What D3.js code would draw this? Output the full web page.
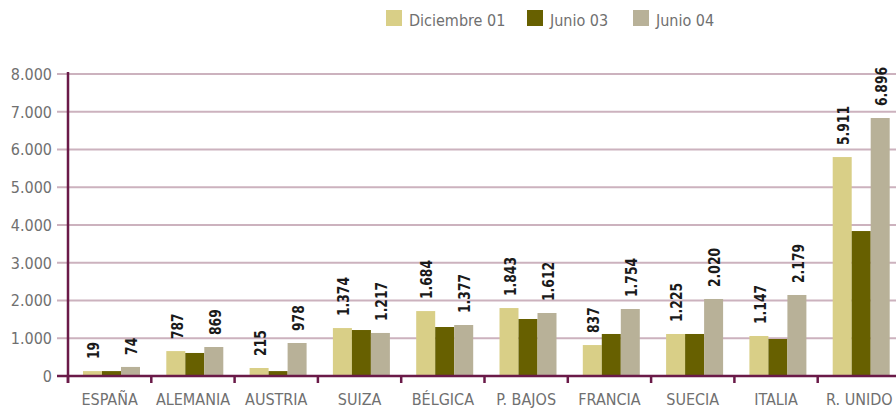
<!DOCTYPE html>
<html>
<head>
<meta charset="utf-8">
<script src="https://cdn.jsdelivr.net/npm/d3@7"></script>
<style>
  body { margin: 0; background: #fff; }
  svg { display: block; }
  .tick-label { font-family: 'DejaVu Sans Condensed', 'DejaVu Sans', sans-serif; font-stretch: condensed; font-size: 16px; fill: #707070; }
  .val { font-family: 'DejaVu Sans Condensed', 'DejaVu Sans', sans-serif; font-stretch: condensed; font-weight: bold; font-size: 16px; fill: #1a1a1a; }
</style>
</head>
<body>
<svg id="chart" width="896" height="408"></svg>
<script>
const width = 896;
const height = 408;

const categories = ['ESPAÑA', 'ALEMANIA', 'AUSTRIA', 'SUIZA', 'BÉLGICA', 'P. BAJOS', 'FRANCIA', 'SUECIA', 'ITALIA', 'R. UNIDO'];
const seriesNames = ['Diciembre 01', 'Junio 03', 'Junio 04'];
const colors = ['#d9cf87', '#676000', '#b8b198'];

// bar heights as drawn in the picture
const dic01 = [130, 660, 212, 1270, 1720, 1800, 820, 1113, 1060, 5800];
const jun03 = [130, 610, 130, 1218, 1298, 1510, 1113, 1113, 980, 3840];
const jun04 = [240, 768, 874, 1140, 1351, 1669, 1775, 2040, 2146, 6834];

// printed value labels (Diciembre 01 and Junio 04 only)
const dic01Labels = ['19', '787', '215', '1.374', '1.684', '1.843', '837', '1.225', '1.147', '5.911'];
const jun04Labels = ['74', '869', '978', '1.217', '1.377', '1.612', '1.754', '2.020', '2.179', '6.896'];

const yTicks = [0, 1000, 2000, 3000, 4000, 5000, 6000, 7000, 8000];
const yTickLabels = ['0', '1.000', '2.000', '3.000', '4.000', '5.000', '6.000', '7.000', '8.000'];

const svg = d3.select('#chart');

const x = d3.scaleBand().domain(categories).range([68, 901]);
const xs = d3.scaleBand().domain(seriesNames).range([15, 72]);
const y = d3.scaleLinear().domain([0, 8000]).range([376, 74]);

// gridlines
svg.append('g')
  .selectAll('line')
  .data(yTicks.slice(1))
  .enter().append('line')
  .attr('x1', 57).attr('x2', width)
  .attr('y1', d => y(d)).attr('y2', d => y(d))
  .attr('stroke', '#ccb2be').attr('stroke-width', 2);

// y tick labels
svg.append('g')
  .selectAll('text')
  .data(yTicks)
  .enter().append('text')
  .attr('class', 'tick-label')
  .attr('x', 52)
  .attr('y', d => y(d))
  .attr('dy', '0.36em')
  .attr('text-anchor', 'end')
  .text((d, i) => yTickLabels[i]);

// bars
const series = [dic01, jun03, jun04];
series.forEach((vals, si) => {
  svg.append('g')
    .selectAll('rect')
    .data(vals)
    .enter().append('rect')
    .attr('x', (d, i) => x(categories[i]) + xs(seriesNames[si]))
    .attr('width', xs.bandwidth())
    .attr('y', d => y(d))
    .attr('height', d => y(0) - y(d))
    .attr('fill', colors[si]);
});

// value labels, narrowed along the text direction
[[dic01, dic01Labels, 0], [jun04, jun04Labels, 2]].forEach(([vals, labels, si]) => {
  svg.append('g')
    .selectAll('text')
    .data(vals)
    .enter().append('text')
    .attr('class', 'val')
    .attr('transform', (d, i) => {
      const cx = x(categories[i]) + xs(seriesNames[si]) + xs.bandwidth() / 2 + 1;
      return `translate(${cx},${y(d) - 12}) rotate(-90) scale(0.86,1)`;
    })
    .attr('dy', '0.36em')
    .text((d, i) => labels[i]);
});

// axes
const axisColor = '#6a1a48';
svg.append('line')
  .attr('x1', 57).attr('x2', width)
  .attr('y1', 376).attr('y2', 376)
  .attr('stroke', axisColor).attr('stroke-width', 2.5);
svg.append('line')
  .attr('x1', 68).attr('x2', 68)
  .attr('y1', 72).attr('y2', 383)
  .attr('stroke', axisColor).attr('stroke-width', 2.5);
svg.append('g')
  .selectAll('line')
  .data(categories)
  .enter().append('line')
  .attr('x1', d => x(d)).attr('x2', d => x(d))
  .attr('y1', 376).attr('y2', 383)
  .attr('stroke', axisColor).attr('stroke-width', 2.5);

// x labels
svg.append('g')
  .selectAll('text')
  .data(categories)
  .enter().append('text')
  .attr('class', 'tick-label')
  .attr('x', d => x(d) + x.bandwidth() / 2)
  .attr('y', 405)
  .attr('text-anchor', 'middle')
  .text(d => d);

// legend
const legendX = [386, 527, 633];
const legend = svg.append('g')
  .selectAll('g')
  .data(seriesNames)
  .enter().append('g')
  .attr('transform', (d, i) => `translate(${legendX[i]},10)`);
legend.append('rect')
  .attr('width', 16).attr('height', 16)
  .attr('fill', (d, i) => colors[i]);
legend.append('text')
  .attr('class', 'tick-label')
  .attr('x', 23).attr('y', 16)
  .attr('font-size', '17px')
  .text(d => d);
</script>
</body>
</html>
